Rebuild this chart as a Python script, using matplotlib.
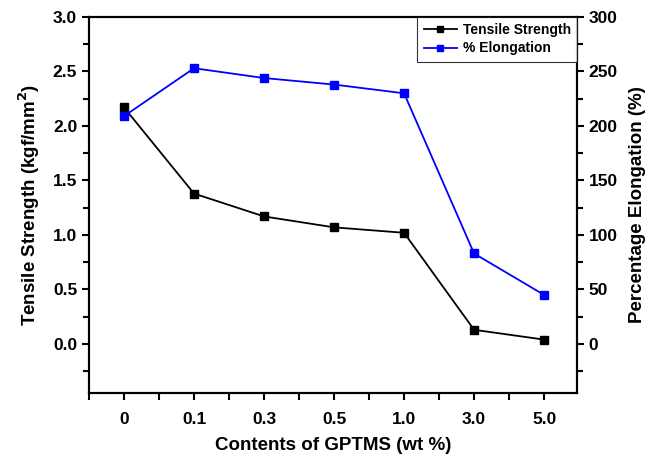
import numpy as np
import matplotlib
matplotlib.use("Agg")
import matplotlib.pyplot as plt
from matplotlib.ticker import MultipleLocator

plt.rcParams["font.family"] = ["Liberation Sans", "DejaVu Sans"]
plt.rcParams["font.weight"] = "bold"

categories = ["0", "0.1", "0.3", "0.5", "1.0", "3.0", "5.0"]
tensile = [2.17, 1.38, 1.17, 1.07, 1.02, 0.13, 0.04]
elongation = [209, 253, 244, 238, 230, 83, 45]

x = np.arange(len(categories))

fig = plt.figure(figsize=(6.54, 4.63), dpi=100)
ax = fig.add_axes([89 / 654, 1 - 393 / 463, (577 - 89) / 654, (393 - 17) / 463])
ax2 = ax.twinx()

l1, = ax.plot(x, tensile, color="black", lw=1.3, marker="s", ms=6,
              label="Tensile Strength")
l2, = ax2.plot(x, elongation, color="blue", lw=1.3, marker="s", ms=6,
               label="% Elongation")

ax.set_xlim(-0.5, 6.47)
ax.set_ylim(-0.45, 3.0)
ax2.set_ylim(-45, 300)

ax.set_xticks(x)
ax.set_xticklabels(categories)
ax.xaxis.set_minor_locator(MultipleLocator(0.5))
ax.yaxis.set_minor_locator(MultipleLocator(0.25))
ax2.yaxis.set_minor_locator(MultipleLocator(25))
ax.set_yticks(np.arange(0, 3.01, 0.5))
ax2.set_yticks(np.arange(0, 301, 50))

for a in (ax, ax2):
    for s in a.spines.values():
        s.set_linewidth(1.5)
    a.tick_params(which="major", length=5, width=1.5, labelsize=12.5, direction="out")
    a.tick_params(which="minor", length=4, width=1.5, direction="out")
ax.tick_params(axis="x", which="both", top=False, pad=9)
ax.tick_params(axis="x", which="minor", length=5)

ax.set_xlabel("Contents of GPTMS (wt %)", fontsize=13.5, fontweight="bold", labelpad=7)
ax.set_ylabel("Tensile Strength (kgf/mm$^\\mathbf{2}$)", fontsize=13.5, fontweight="bold",
              labelpad=8)
ax2.set_ylabel("Percentage Elongation (%)", fontsize=13.5, fontweight="bold", labelpad=8)

leg = ax2.legend(handles=[l1, l2], loc="upper right", fontsize=10, frameon=True,
                 fancybox=False, edgecolor="black", borderaxespad=0, handlelength=2.4,
                 borderpad=0.45, labelspacing=0.3, markerscale=0.8, handletextpad=0.4)
leg.get_frame().set_linewidth(0.8)

fig.savefig("out.png", dpi=100, facecolor="white")
